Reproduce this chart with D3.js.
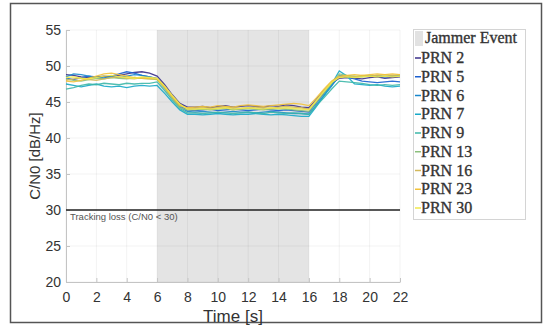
<!DOCTYPE html>
<html>
<head>
<meta charset="utf-8">
<script src="https://cdn.jsdelivr.net/npm/d3@7"></script>
<style>
  body { margin: 0; background: #fff; }
  .tick text { font-family: "Liberation Sans", Arial, sans-serif; font-size: 14px; fill: #333; }
  .legendText { font-family: "Liberation Serif", "DejaVu Serif", serif; font-size: 16px; fill: #333; stroke: #333; stroke-width: 0.35px; }
</style>
</head>
<body>
<div id="chart"></div>
<script>
// time samples (s)
var times = [0, 0.5, 1, 1.5, 2, 2.5, 3, 3.5, 4, 4.5, 5, 5.5, 6, 6.5, 7, 7.5, 8, 8.5, 9, 9.5, 10, 10.5, 11, 11.5,
  12, 12.5, 13, 13.5, 14, 14.5, 15, 15.5, 16, 16.5, 17, 17.5, 18, 18.5, 19, 19.5, 20, 20.5, 21, 21.5, 22];

var prnNames = ["PRN 2", "PRN 5", "PRN 6", "PRN 7", "PRN 9", "PRN 13", "PRN 16", "PRN 23", "PRN 30"];
var prnColors = ["#3a2f8a", "#1a5fd0", "#1887cc", "#16a9c8", "#3db7a8", "#8cc07c", "#d3b85a", "#f2c23a", "#f0e84a"];

// C/N0 values (dB/Hz)
var prn2 = [48.8, 48.7, 48.5, 48.4, 48.5, 48.6, 48.5, 48.7, 48.9, 49.1, 49.2, 49.0, 48.6, 47.4, 46.0, 44.8, 44.3,
  44.3, 44.4, 44.2, 44.4, 44.5, 44.3, 44.4, 44.5, 44.4, 44.3, 44.5, 44.4, 44.6, 44.5, 44.3, 44.2,
  45.4, 46.6, 47.6, 48.3, 48.4, 48.3, 48.2, 48.4, 48.5, 48.3, 48.4, 48.5];
var prn5 = [48.3, 48.1, 48.4, 48.6, 48.5, 48.3, 48.6, 48.9, 49.2, 49.0, 48.7, 48.5, 48.3, 47.1, 45.7, 44.5, 43.9,
  43.8, 43.9, 44.0, 43.8, 43.9, 44.0, 43.9, 43.8, 43.9, 44.0, 43.9, 43.8, 43.9, 43.8, 43.7, 43.6,
  44.9, 46.2, 47.4, 48.5, 48.5, 48.2, 47.9, 47.8, 47.7, 47.8, 47.9, 47.8];
var prn6 = [48.5, 48.9, 48.8, 48.6, 48.4, 48.3, 48.5, 48.4, 48.6, 48.8, 48.7, 48.5, 48.2, 47.0, 45.6, 44.3, 43.7,
  43.6, 43.7, 43.6, 43.5, 43.6, 43.7, 43.6, 43.6, 43.5, 43.6, 43.7, 43.6, 43.5, 43.4, 43.4, 43.3,
  44.6, 45.9, 47.2, 48.7, 48.6, 48.5, 48.6, 48.7, 48.6, 48.5, 48.6, 48.7];
var prn7 = [47.5, 47.3, 47.1, 47.3, 47.5, 47.2, 47.1, 47.2, 47.0, 47.2, 47.3, 47.2, 47.3, 46.2, 45.0, 43.9, 43.3,
  43.3, 43.2, 43.3, 43.4, 43.3, 43.2, 43.3, 43.3, 43.4, 43.3, 43.2, 43.3, 43.2, 43.1, 43.0, 43.0,
  44.4, 45.9, 47.5, 49.3, 48.6, 47.5, 47.4, 47.3, 47.4, 47.2, 47.1, 47.2];
var prn9 = [46.8, 47.0, 47.3, 47.5, 47.4, 47.6, 47.5, 47.4, 47.6, 47.5, 47.6, 47.6, 47.8, 46.6, 45.3, 44.1, 43.5,
  43.5, 43.4, 43.5, 43.6, 43.5, 43.4, 43.5, 43.6, 43.5, 43.4, 43.6, 43.5, 43.4, 43.5, 43.4, 43.3,
  44.5, 45.6, 46.8, 47.9, 47.8, 47.7, 47.6, 47.4, 47.3, 47.4, 47.3, 47.4];
var prn13 = [48.2, 48.0, 47.9, 48.1, 48.3, 48.2, 48.4, 48.3, 48.2, 48.4, 48.3, 48.2, 48.1, 46.9, 45.5, 44.2, 43.9,
  43.9, 44.0, 43.9, 44.0, 44.1, 43.9, 44.0, 44.1, 44.0, 43.9, 44.0, 44.1, 44.0, 43.9, 43.8, 43.7,
  45.0, 46.3, 47.6, 48.9, 48.7, 48.6, 48.5, 48.6, 48.7, 48.6, 48.7, 48.6];
var prn16 = [48.0, 48.2, 48.3, 48.1, 48.0, 48.2, 48.4, 48.5, 48.3, 48.2, 48.4, 48.3, 48.2, 47.1, 45.8, 44.6, 44.1,
  44.1, 44.2, 44.1, 44.2, 44.3, 44.2, 44.1, 44.2, 44.3, 44.2, 44.1, 44.3, 44.4, 44.3, 44.2, 44.0,
  45.3, 46.6, 47.8, 48.5, 48.6, 48.5, 48.7, 48.6, 48.7, 48.8, 48.7, 48.8];
var prn23 = [47.9, 47.8, 48.0, 48.3, 48.6, 48.9, 49.0, 48.8, 48.6, 48.4, 48.3, 48.2, 48.2, 47.0, 45.7, 44.5, 44.2,
  44.3, 44.4, 44.3, 44.5, 44.4, 44.3, 44.5, 44.6, 44.5, 44.4, 44.5, 44.6, 44.7, 44.8, 44.7, 44.5,
  45.6, 46.8, 47.9, 48.6, 48.7, 48.8, 48.7, 48.8, 48.9, 48.8, 48.9, 48.8];
var prn30 = [48.4, 48.5, 48.3, 48.2, 48.4, 48.6, 48.7, 48.5, 48.4, 48.3, 48.5, 48.4, 48.3, 47.2, 45.9, 44.7, 44.0,
  44.0, 44.1, 44.0, 44.1, 44.2, 44.0, 44.1, 44.2, 44.1, 44.0, 44.2, 44.1, 44.2, 44.1, 44.0, 43.9,
  45.2, 46.5, 47.7, 48.4, 48.5, 48.4, 48.5, 48.6, 48.5, 48.6, 48.5, 48.6];
var prnValues = [prn2, prn5, prn6, prn7, prn9, prn13, prn16, prn23, prn30];

var jammerStart = 6;
var jammerEnd = 16;
var trackingLoss = 30;
var xTicks = [0, 2, 4, 6, 8, 10, 12, 14, 16, 18, 20, 22];
var yTicks = [20, 25, 30, 35, 40, 45, 50, 55];

var svgWidth = 548;
var svgHeight = 326;

var margin = {
  top: 30,
  right: 148,
  bottom: 44,
  left: 66
};

var width = svgWidth - margin.left - margin.right;
var height = svgHeight - margin.top - margin.bottom;

var svg = d3.select("#chart")
  .append("svg")
  .attr("width", svgWidth)
  .attr("height", svgHeight);

// outer figure frame
svg.append("rect")
  .attr("x", 10.5)
  .attr("y", 3.5)
  .attr("width", 531)
  .attr("height", 319)
  .attr("fill", "#fff")
  .attr("stroke", "#555")
  .attr("stroke-width", 1.5);

var chartGroup = svg.append("g")
  .attr("transform", `translate(${margin.left}, ${margin.top})`);

var xScale = d3.scaleLinear()
  .domain([0, 22])
  .range([0, width]);

var yScale = d3.scaleLinear()
  .domain([20, 55])
  .range([height, 0]);

// jammer shaded region
chartGroup.append("rect")
  .attr("x", xScale(jammerStart))
  .attr("y", 0)
  .attr("width", xScale(jammerEnd) - xScale(jammerStart))
  .attr("height", height)
  .attr("fill", "#e4e4e4");

// light grid
chartGroup.append("g")
  .selectAll("line")
  .data(xTicks)
  .join("line")
  .attr("x1", d => xScale(d))
  .attr("x2", d => xScale(d))
  .attr("y1", 0)
  .attr("y2", height)
  .attr("stroke", "#000")
  .attr("stroke-opacity", 0.05);

chartGroup.append("g")
  .selectAll("line")
  .data(yTicks)
  .join("line")
  .attr("x1", 0)
  .attr("x2", width)
  .attr("y1", d => yScale(d))
  .attr("y2", d => yScale(d))
  .attr("stroke", "#000")
  .attr("stroke-opacity", 0.05);

// axes
var bottomAxis = d3.axisBottom(xScale).tickValues(xTicks).tickSizeInner(-4).tickSizeOuter(0).tickPadding(10);
var leftAxis = d3.axisLeft(yScale).tickValues(yTicks).tickSizeInner(-4).tickSizeOuter(0).tickPadding(5);

var xAxis = chartGroup.append("g")
  .attr("transform", `translate(0, ${height})`)
  .call(bottomAxis);

var yAxis = chartGroup.append("g")
  .call(leftAxis);

[xAxis, yAxis].forEach(ax => {
  ax.select(".domain").attr("stroke", "#c4c4c4");
  ax.selectAll(".tick line").attr("stroke", "#c4c4c4");
});

// tracking loss threshold
chartGroup.append("line")
  .attr("x1", xScale(0))
  .attr("x2", xScale(22))
  .attr("y1", yScale(trackingLoss))
  .attr("y2", yScale(trackingLoss))
  .attr("stroke", "#222")
  .attr("stroke-width", 1.5);

chartGroup.append("text")
  .attr("x", xScale(0) + 4)
  .attr("y", yScale(trackingLoss) + 10)
  .attr("font-family", "Liberation Sans, Arial, sans-serif")
  .attr("font-size", "9.5px")
  .attr("fill", "#555")
  .text("Tracking loss (C/N0 < 30)");

// PRN lines
var line = d3.line()
  .x((d, i) => xScale(times[i]))
  .y(d => yScale(d));

chartGroup.append("g")
  .selectAll("path")
  .data(prnValues)
  .join("path")
  .attr("d", d => line(d))
  .attr("fill", "none")
  .attr("stroke", (d, i) => prnColors[i])
  .attr("stroke-width", 1.3)
  .attr("stroke-opacity", 0.9);

// axis labels
chartGroup.append("text")
  .attr("x", width / 2)
  .attr("y", height + 40)
  .attr("text-anchor", "middle")
  .attr("font-family", "Liberation Sans, Arial, sans-serif")
  .attr("font-size", "17px")
  .attr("fill", "#333")
  .text("Time [s]");

chartGroup.append("text")
  .attr("transform", "rotate(-90)")
  .attr("x", 0 - (height / 2))
  .attr("y", 0 - 26)
  .attr("text-anchor", "middle")
  .attr("font-family", "Liberation Sans, Arial, sans-serif")
  .attr("font-size", "15px")
  .attr("fill", "#333")
  .text("C/N0 [dB/Hz]");

// legend
var legend = svg.append("g")
  .attr("transform", "translate(413, 29)");

legend.append("rect")
  .attr("x", 0.5)
  .attr("y", 0.5)
  .attr("width", 112)
  .attr("height", 190)
  .attr("fill", "#fff")
  .attr("stroke", "#d4d4d4");

legend.append("rect")
  .attr("x", 2)
  .attr("y", 2)
  .attr("width", 8)
  .attr("height", 15)
  .attr("fill", "#e2e2e2");

legend.append("text")
  .attr("class", "legendText")
  .attr("x", 12)
  .attr("y", 14)
  .text("Jammer Event");

var rows = legend.selectAll("g.row")
  .data(prnNames)
  .join("g")
  .attr("class", "row")
  .attr("transform", (d, i) => `translate(0, ${29 + i * 18.75})`);

rows.append("line")
  .attr("x1", 2)
  .attr("x2", 8)
  .attr("y1", 0)
  .attr("y2", 0)
  .attr("stroke", (d, i) => prnColors[i])
  .attr("stroke-width", 1.5);

rows.append("text")
  .attr("class", "legendText")
  .attr("x", 8)
  .attr("y", 5)
  .text(d => d);
</script>
</body>
</html>
